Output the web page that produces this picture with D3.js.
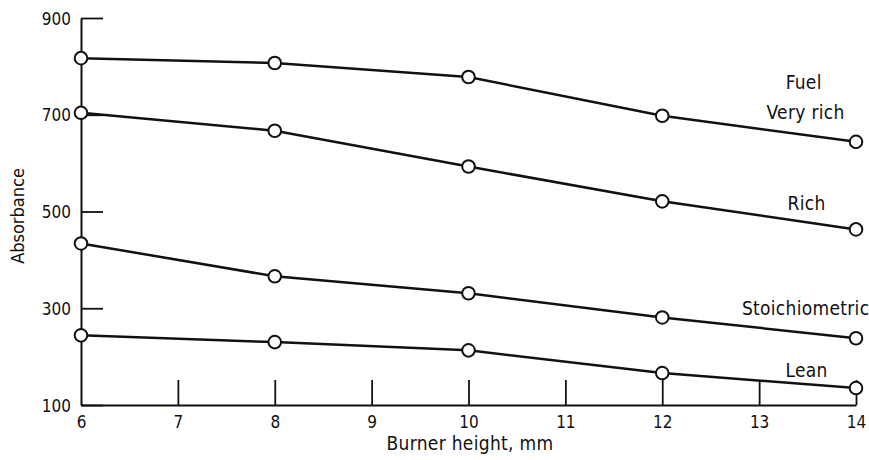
<!DOCTYPE html>
<html>
<head>
<meta charset="utf-8">
<script src="https://cdn.jsdelivr.net/npm/d3@7"></script>
<style>
  html, body { margin: 0; padding: 0; background: #fff; }
  svg text { font-family: "DejaVu Sans Condensed", "DejaVu Sans", sans-serif; fill: #111; }
</style>
</head>
<body>
<svg id="chart" width="869" height="460"></svg>
<script>
// Burner heights (mm) where absorbance was measured
const heights = [6, 8, 10, 12, 14];

// Absorbance for each fuel mixture
const veryRich = [817, 807, 778, 698, 644];
const rich = [704, 667, 593, 521, 463];
const stoichiometric = [434, 366, 331, 281, 238];
const lean = [244, 230, 213, 166, 135];

const xTicks = [6, 7, 8, 9, 10, 11, 12, 13, 14];
const yTicks = [100, 300, 500, 700, 900];

const seriesNames = ["Very rich", "Rich", "Stoichiometric", "Lean"];
const seriesValues = [veryRich, rich, stoichiometric, lean];

const svg = d3.select("#chart");
const x = d3.scaleLinear().domain([6, 14]).range([81, 856]);
const y = d3.scaleLinear().domain([100, 900]).range([405, 18]);

const ink = "#111";

// Axes: left axis with inward ticks, bottom axis with upward ticks
const yAxis = svg.append("g")
  .attr("transform", `translate(${x(6)},0)`)
  .call(d3.axisLeft(y).tickValues(yTicks).tickSize(-22).tickPadding(10).tickSizeOuter(0));
yAxis.select(".domain").attr("stroke", ink).attr("stroke-width", 2);
yAxis.selectAll(".tick line").attr("stroke", ink).attr("stroke-width", 1.8);
yAxis.selectAll(".tick text").style("font-size", "17px").attr("x", -10).attr("dy", "0.36em");

const xAxis = svg.append("g")
  .attr("transform", `translate(0,${y(100)})`)
  .call(d3.axisBottom(x).tickValues(xTicks).tickSize(-25).tickPadding(8).tickSizeOuter(0));
xAxis.select(".domain").attr("stroke", ink).attr("stroke-width", 2);
xAxis.selectAll(".tick line").attr("stroke", ink).attr("stroke-width", 1.8);
xAxis.selectAll(".tick text").style("font-size", "17px").attr("y", 11);
xAxis.selectAll(".tick").filter(d => d === 6).select("line").remove();

// Axis titles
svg.append("text")
  .attr("x", 470).attr("y", 450)
  .attr("text-anchor", "middle")
  .style("font-size", "19px")
  .style("letter-spacing", "0.3px")
  .text("Burner height, mm");

svg.append("text")
  .attr("transform", `translate(24,${216}) rotate(-90)`)
  .attr("text-anchor", "middle")
  .style("font-size", "18px")
  .text("Absorbance");

// Lines and open circle markers
const line = d3.line().x((d, i) => x(heights[i])).y(d => y(d));

seriesValues.forEach(vals => {
  svg.append("path")
    .datum(vals)
    .attr("d", line)
    .attr("fill", "none")
    .attr("stroke", ink)
    .attr("stroke-width", 2.5);
  svg.selectAll(null)
    .data(vals)
    .enter().append("circle")
    .attr("cx", (d, i) => x(heights[i]))
    .attr("cy", d => y(d))
    .attr("r", 6.3)
    .attr("fill", "#fff")
    .attr("stroke", ink)
    .attr("stroke-width", 2);
});

// Series labels (x in mm, baseline in absorbance units)
const labelPos = [
  { text: "Fuel", x: 13.46, v: 753 },
  { text: seriesNames[0], x: 13.48, v: 691 },
  { text: seriesNames[1], x: 13.49, v: 503 },
  { text: seriesNames[2], x: 13.48, v: 286 },
  { text: seriesNames[3], x: 13.49, v: 158 }
];
svg.selectAll(null)
  .data(labelPos)
  .enter().append("text")
  .attr("x", d => x(d.x))
  .attr("y", d => y(d.v))
  .attr("text-anchor", "middle")
  .style("font-size", "19px")
  .style("letter-spacing", "0.3px")
  .text(d => d.text);
</script>
</body>
</html>
